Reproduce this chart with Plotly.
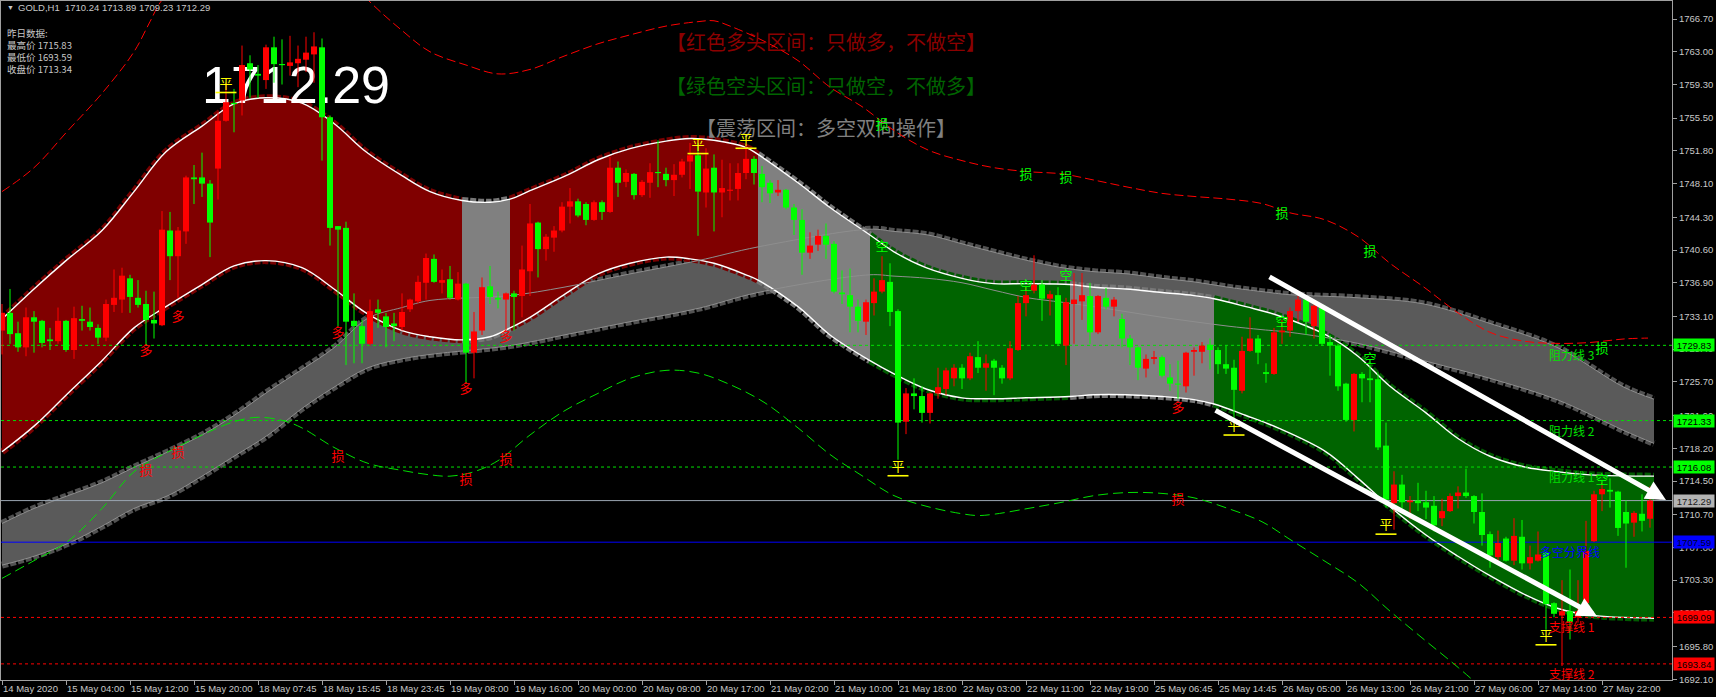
import plotly.graph_objects as go

# ---------------------------------------------------------------- data
symbol = "GOLD,H1"
yesterday = {"最高价": 1715.83, "最低价": 1693.59, "收盘价": 1713.34}

opens = [1731.5, 1733.5, 1731.2, 1729.6, 1733.0, 1732.6, 1730.5, 1730.3, 1732.6, 1729.3,
         1732.8, 1732.5, 1731.8, 1730.7, 1734.4, 1735.0, 1737.4, 1735.2, 1734.5, 1732.7,
         1732.1, 1742.8, 1739.9, 1742.7, 1748.8, 1748.8, 1748.1, 1749.8, 1755.2, 1757.2,
         1757.5, 1761.7, 1760.5, 1759.8, 1763.5, 1761.6, 1761.4, 1761.7, 1762.1, 1762.7,
         1763.5, 1755.6, 1743.3, 1743.1, 1732.6, 1732.0, 1730.0, 1733.9, 1733.1, 1732.3,
         1731.9, 1733.9, 1734.8, 1736.9, 1739.6, 1736.9, 1737.3, 1735.0, 1736.8, 1729.0,
         1731.5, 1736.5, 1735.2, 1735.0, 1735.7, 1735.4, 1738.2, 1743.7, 1740.7, 1742.0,
         1742.8, 1745.5, 1746.1, 1745.8, 1744.0, 1746.0, 1744.9, 1749.9, 1748.3, 1749.2,
         1746.8, 1748.2, 1749.4, 1749.2, 1748.5, 1749.1, 1750.6, 1751.3, 1747.1, 1749.9,
         1747.1, 1747.3, 1747.5, 1749.3, 1750.9, 1749.2, 1748.2, 1747.1, 1747.4, 1745.4,
         1744.0, 1740.3, 1741.2, 1742.2, 1741.3, 1735.8, 1735.5, 1734.2, 1732.5, 1734.6,
         1735.9, 1737.0, 1733.7, 1721.2, 1724.4, 1724.1, 1722.2, 1724.4, 1724.9, 1726.1,
         1727.3, 1726.1, 1728.5, 1727.3, 1728.1, 1727.3, 1726.1, 1729.3, 1734.6, 1736.0,
         1736.7, 1735.1, 1735.5, 1729.8, 1734.5, 1734.8, 1735.4, 1731.3, 1735.2, 1734.2,
         1732.8, 1730.6, 1729.6, 1727.2, 1728.3, 1728.5, 1726.2, 1725.5, 1725.2, 1729.1,
         1729.1, 1729.9, 1729.3, 1727.7, 1727.3, 1724.7, 1729.2, 1730.6, 1726.8, 1726.6,
         1731.3, 1731.5, 1733.7, 1735.0, 1732.0, 1734.4, 1730.2, 1729.8, 1725.5, 1721.4,
         1726.6, 1726.1, 1726.0, 1718.5, 1712.0, 1714.1, 1712.1, 1712.3, 1712.1, 1711.7,
         1710.3, 1711.1, 1712.8, 1713.2, 1712.8, 1711.0, 1708.5, 1705.9, 1708.0, 1705.5,
         1708.2, 1705.2, 1705.5, 1706.4, 1700.7, 1699.3, 1699.8, 1699.1, 1700.7, 1707.7,
         1713.0, 1713.5, 1713.3, 1711.0, 1709.8, 1710.8, 1710.24]
highs = [1734.5, 1736.2, 1732.5, 1734.1, 1733.7, 1732.7, 1731.8, 1734.1, 1732.7, 1734.2,
         1734.3, 1734.1, 1732.2, 1735.0, 1738.4, 1738.6, 1737.8, 1737.2, 1736.0, 1735.9,
         1745.0, 1744.9, 1743.2, 1749.0, 1750.2, 1751.6, 1748.5, 1756.2, 1759.5, 1758.8,
         1763.7, 1762.6, 1761.5, 1763.8, 1764.7, 1764.4, 1764.8, 1763.7, 1764.7, 1765.2,
         1764.5, 1755.8, 1743.3, 1743.8, 1735.7, 1732.7, 1735.0, 1735.0, 1733.5, 1733.5,
         1735.7, 1735.1, 1737.7, 1740.2, 1740.1, 1738.4, 1738.8, 1738.1, 1736.9, 1733.6,
         1737.5, 1738.8, 1735.9, 1735.8, 1736.0, 1741.1, 1745.8, 1743.8, 1742.4, 1743.3,
         1746.0, 1747.6, 1746.4, 1746.0, 1746.2, 1746.2, 1751.1, 1750.6, 1749.7, 1749.3,
         1748.5, 1750.4, 1753.0, 1749.9, 1750.3, 1750.9, 1752.7, 1752.7, 1752.1, 1751.4,
         1750.8, 1750.4, 1750.4, 1752.6, 1751.2, 1750.1, 1748.5, 1748.5, 1747.5, 1745.8,
         1745.2, 1742.6, 1742.9, 1743.6, 1741.6, 1738.3, 1738.5, 1735.0, 1735.0, 1737.4,
         1739.9, 1739.1, 1733.9, 1725.0, 1726.1, 1725.2, 1724.5, 1727.3, 1727.3, 1727.7,
         1727.7, 1729.0, 1730.3, 1728.8, 1728.3, 1727.6, 1730.3, 1735.4, 1736.4, 1740.0,
         1737.2, 1736.0, 1736.4, 1735.2, 1738.0, 1738.0, 1736.9, 1735.5, 1736.3, 1735.3,
         1733.4, 1731.0, 1729.7, 1728.8, 1729.2, 1728.7, 1727.7, 1728.1, 1729.1, 1729.6,
         1730.2, 1730.6, 1729.6, 1729.8, 1728.2, 1730.8, 1733.0, 1731.0, 1727.8, 1731.8,
         1732.7, 1734.1, 1735.4, 1735.1, 1734.6, 1734.5, 1731.0, 1730.0, 1725.6, 1726.7,
         1726.8, 1727.6, 1726.8, 1721.1, 1715.6, 1715.2, 1712.8, 1714.3, 1713.4, 1712.8,
         1712.5, 1713.1, 1713.9, 1715.9, 1712.9, 1713.1, 1708.8, 1708.9, 1708.2, 1710.3,
         1710.1, 1707.2, 1708.8, 1706.5, 1700.8, 1703.3, 1704.5, 1703.3, 1710.0, 1713.4,
         1714.3, 1714.8, 1713.4, 1712.3, 1711.1, 1713.0, 1713.89]
lows = [1728.8, 1730.0, 1729.1, 1728.6, 1729.0, 1729.6, 1729.3, 1730.0, 1729.1, 1728.3,
        1731.5, 1731.5, 1730.0, 1730.3, 1733.6, 1733.5, 1733.5, 1734.1, 1729.8, 1730.6,
        1732.0, 1737.2, 1735.2, 1741.3, 1745.8, 1746.6, 1739.8, 1746.3, 1755.1, 1753.9,
        1755.8, 1757.8, 1757.8, 1758.8, 1759.5, 1759.3, 1760.3, 1759.0, 1760.7, 1759.5,
        1750.7, 1741.1, 1732.0, 1727.6, 1727.8, 1727.8, 1729.8, 1731.8, 1729.6, 1730.3,
        1731.5, 1733.6, 1734.6, 1735.0, 1736.9, 1735.7, 1735.0, 1734.9, 1725.6, 1726.1,
        1731.0, 1734.5, 1734.0, 1731.5, 1731.5, 1733.0, 1735.4, 1737.5, 1739.4, 1740.4,
        1742.6, 1743.6, 1744.3, 1743.4, 1743.9, 1744.0, 1744.8, 1746.6, 1747.7, 1746.3,
        1746.6, 1746.5, 1747.7, 1747.8, 1746.7, 1748.8, 1747.5, 1742.2, 1745.4, 1742.7,
        1744.3, 1746.2, 1746.2, 1748.6, 1748.0, 1746.0, 1745.9, 1746.7, 1745.2, 1742.3,
        1737.8, 1739.6, 1740.5, 1739.6, 1735.7, 1734.5, 1731.3, 1731.3, 1731.0, 1733.2,
        1735.7, 1732.0, 1716.9, 1719.8, 1722.6, 1721.1, 1721.0, 1723.8, 1724.2, 1725.2,
        1724.9, 1725.9, 1726.7, 1724.7, 1724.2, 1725.5, 1725.9, 1729.2, 1733.1, 1735.7,
        1732.6, 1733.2, 1729.8, 1727.6, 1730.0, 1732.7, 1730.0, 1731.1, 1733.9, 1733.1,
        1729.6, 1727.6, 1725.9, 1726.2, 1727.7, 1726.2, 1724.7, 1723.8, 1724.5, 1726.4,
        1727.8, 1727.1, 1726.6, 1726.6, 1721.4, 1724.4, 1729.1, 1727.7, 1725.6, 1726.5,
        1730.0, 1730.8, 1732.5, 1731.0, 1730.6, 1729.8, 1726.4, 1724.7, 1721.2, 1720.1,
        1723.4, 1723.4, 1718.0, 1711.5, 1709.0, 1711.4, 1710.2, 1711.1, 1710.2, 1708.8,
        1709.4, 1711.0, 1711.4, 1712.6, 1709.7, 1707.2, 1704.7, 1705.5, 1705.4, 1705.0,
        1704.5, 1704.5, 1705.4, 1697.7, 1699.1, 1693.6, 1696.6, 1698.5, 1700.3, 1707.6,
        1711.1, 1711.5, 1708.3, 1704.7, 1708.2, 1708.8, 1709.23]
closes = [1733.5, 1731.1, 1729.6, 1733.0, 1732.5, 1730.1, 1730.3, 1732.6, 1729.3, 1732.9,
          1732.6, 1731.9, 1730.7, 1734.5, 1735.2, 1737.7, 1735.3, 1734.4, 1732.7, 1732.3,
          1742.9, 1739.9, 1742.8, 1748.8, 1748.6, 1748.1, 1743.7, 1755.2, 1757.3, 1757.1,
          1761.5, 1761.0, 1760.3, 1763.5, 1761.6, 1761.5, 1761.8, 1762.2, 1762.9, 1763.6,
          1755.6, 1743.1, 1742.9, 1732.5, 1732.0, 1730.0, 1733.7, 1733.5, 1731.9, 1732.0,
          1733.6, 1735.0, 1737.0, 1739.7, 1737.0, 1737.2, 1735.2, 1736.8, 1729.0, 1731.4,
          1736.4, 1735.3, 1735.0, 1735.7, 1735.3, 1738.4, 1743.6, 1740.7, 1742.1, 1742.8,
          1745.5, 1746.1, 1744.5, 1744.0, 1746.0, 1744.9, 1749.9, 1748.2, 1749.3, 1746.8,
          1748.3, 1749.4, 1749.3, 1748.5, 1749.1, 1750.6, 1751.3, 1747.2, 1749.8, 1747.1,
          1747.6, 1747.4, 1749.3, 1750.9, 1749.3, 1747.7, 1747.0, 1747.4, 1745.4, 1744.0,
          1740.3, 1741.1, 1742.2, 1741.2, 1735.9, 1735.6, 1734.2, 1732.6, 1734.7, 1735.9,
          1737.2, 1733.6, 1721.1, 1724.4, 1724.1, 1722.2, 1724.4, 1725.1, 1727.0, 1727.3,
          1726.1, 1728.6, 1727.3, 1727.8, 1727.3, 1726.1, 1729.5, 1734.6, 1735.5, 1736.7,
          1735.1, 1735.6, 1730.0, 1734.7, 1735.0, 1735.5, 1731.3, 1735.4, 1734.2, 1735.0,
          1730.6, 1729.6, 1727.3, 1728.3, 1728.5, 1726.4, 1725.5, 1725.4, 1729.0, 1729.3,
          1729.8, 1729.3, 1727.7, 1727.2, 1724.8, 1729.2, 1730.6, 1729.0, 1726.6, 1731.3,
          1731.5, 1733.7, 1735.0, 1732.5, 1734.3, 1730.0, 1729.8, 1725.2, 1721.4, 1726.6,
          1726.1, 1725.9, 1718.3, 1712.4, 1714.1, 1712.1, 1712.3, 1712.0, 1711.5, 1709.5,
          1711.1, 1712.8, 1713.2, 1712.8, 1711.0, 1708.4, 1706.1, 1707.5, 1705.5, 1708.3,
          1705.2, 1705.9, 1706.2, 1700.6, 1699.5, 1699.8, 1698.6, 1699.8, 1706.6, 1713.0,
          1713.6, 1713.3, 1709.2, 1709.7, 1710.9, 1710.0, 1712.29]

x_tick_bars = [0, 8, 16, 24, 32, 40, 48, 56, 64, 72, 80, 88, 96, 104, 112, 120, 128,
               136, 144, 152, 160, 168, 176, 184, 192, 200]
x_tick_text = ["14 May 2020", "15 May 04:00", "15 May 12:00", "15 May 20:00", "18 May 07:45",
               "18 May 15:45", "18 May 23:45", "19 May 08:00", "19 May 16:00", "20 May 00:00",
               "20 May 09:00", "20 May 17:00", "21 May 02:00", "21 May 10:00", "21 May 18:00",
               "22 May 03:00", "22 May 11:00", "22 May 19:00", "25 May 06:45", "25 May 14:45",
               "26 May 05:00", "26 May 13:00", "26 May 21:00", "27 May 06:00", "27 May 14:00",
               "27 May 22:00"]
y_tick_vals = [1766.70, 1763.00, 1759.30, 1755.50, 1751.80, 1748.10, 1744.30, 1740.60,
               1736.90, 1733.10, 1729.40, 1725.70, 1721.90, 1718.20, 1714.50, 1710.70,
               1707.00, 1703.30, 1699.60, 1695.80, 1692.10]

level_prices = [1729.83, 1721.33, 1716.08, 1712.29, 1707.59, 1699.09, 1693.84]
level_kinds = ["resist", "resist", "resist", "bid", "pivot", "support", "support"]
level_names = ["阻力线 3", "阻力线 2", "阻力线 1", "", "多空分界线", "支撑线 1", "支撑线 2"]

# channel (zone band) knots
band_idx = [0, 4, 8, 12.5, 16.5, 20.5, 25, 29, 33, 37.5,
            41.5, 45.5, 50, 53.5, 57.5, 61, 63.5, 66, 70.5, 74.5,
            78.5, 83, 86, 89, 93, 94.5, 99.5, 103.5, 108.5, 111.5,
            115.5, 120, 124, 128, 133.5, 136.5, 140.5, 145, 149, 151.5,
            155.5, 159.5, 165.5, 169.5, 173.5, 178, 182, 186, 190.5, 194.5,
            198.5, 206.5]
band_up = [1732.8, 1736.2, 1739.4, 1742.8, 1747.2, 1751.7, 1754.6, 1757.1, 1757.8, 1757.2,
           1754.9, 1751.7, 1749.0, 1747.2, 1746.2, 1746.0, 1746.35, 1747.3, 1749.0, 1750.8,
           1752.05, 1752.9, 1753.2, 1753.0, 1752.2, 1751.4, 1748.2, 1745.4, 1742.3, 1740.4,
           1738.6, 1737.4, 1736.8, 1736.8, 1736.7, 1736.4, 1736.2, 1735.8, 1735.45, 1735.1,
           1734.2, 1733.2, 1731.0, 1728.6, 1725.2, 1722.2, 1719.3, 1717.3, 1716.05, 1715.55,
           1715.2, 1715.05]
band_lo = [1717.8, 1720.7, 1724.2, 1728.1, 1731.8, 1734.2, 1736.7, 1738.8, 1739.4, 1738.6,
           1736.2, 1733.5, 1731.5, 1730.8, 1730.45, 1730.8, 1731.8, 1733.0, 1735.7, 1737.9,
           1739.1, 1739.8, 1739.6, 1739.1, 1737.8, 1737.2, 1734.2, 1731.0, 1728.1, 1726.6,
           1724.9, 1723.9, 1723.8, 1723.9, 1724.05, 1724.25, 1724.25, 1724.05, 1723.7, 1723.2,
           1721.9, 1720.5, 1717.8, 1714.8, 1711.6, 1708.4, 1706.0, 1703.8, 1701.6, 1700.1,
           1699.35, 1699.0]
zone_breaks = [0, 57.5, 63.5, 94.5, 108.5, 133.5, 151.5, 206.5]
zone_kinds = ["bull", "range", "bull", "range", "bear", "range", "bear"]

# cloud band knots
cloud_idx = [0, 4, 8.25, 12.5, 16.5, 20.75, 25, 29, 33.25, 37.5,
             41.5, 45.75, 50, 53.5, 63.5, 70.25, 78.5, 87, 94.5, 108.5,
             111.5, 115.75, 120, 124, 128.25, 132.5, 136.5, 140.75, 145, 149,
             153.25, 157.5, 161, 169.5, 177.75, 186, 194.5, 202.75, 206.5]
cloud_top = [1709.7, 1711.4, 1712.85, 1714.3, 1716.05, 1717.8, 1719.7, 1721.9, 1724.6, 1727.1,
             1729.55, 1732.9, 1734.1, 1734.9, 1735.45, 1736.4, 1737.9, 1739.4, 1740.95, 1742.95,
             1742.7, 1742.3, 1741.3, 1740.35, 1739.4, 1738.6, 1738.15, 1737.9, 1737.4, 1737.0,
             1736.4, 1735.9, 1735.55, 1735.2, 1734.5, 1732.3, 1729.55, 1725.1, 1723.75]
cloud_bot = [1705.0, 1706.0, 1707.45, 1709.4, 1711.4, 1712.85, 1715.05, 1717.3, 1719.7, 1722.7,
             1725.1, 1727.3, 1728.3, 1728.8, 1729.8, 1731.0, 1732.5, 1734.0, 1735.8, 1737.8,
             1737.65, 1737.4, 1736.9, 1736.05, 1735.2, 1734.7, 1734.2, 1733.6, 1733.0, 1732.5,
             1732.0, 1731.6, 1731.3, 1730.05, 1728.1, 1726.1, 1723.65, 1720.2, 1718.75]

# outer envelope (red dashed upper, green dashed lower)
env_up_idx = [0, 4, 8.25, 12.5, 16.5, 18.5, 20, 26, 33, 40,
              45.75, 50, 53.5, 58, 62, 66, 70.25, 74.5, 78.5, 83,
              87, 89, 91, 95.25, 99.5, 103.5, 107.5, 111.5, 115.75, 120,
              124, 128.25, 132.5, 136.5, 140.75, 145, 149, 153.25, 157.5, 161,
              165.25, 169.5, 173.5, 177.75, 182, 186, 190.25, 194.5, 198.5, 202.75,
              205.75]
env_up = [1747.2, 1749.9, 1754.1, 1758.3, 1763.0, 1766.4, 1768.85, 1774.5, 1777.0, 1774.5,
          1768.85, 1765.4, 1763.0, 1761.5, 1760.5, 1761.0, 1762.5, 1763.9, 1764.9, 1765.9,
          1766.4, 1766.5, 1765.9, 1764.2, 1762.0, 1759.0, 1756.8, 1754.1, 1751.9, 1750.7,
          1749.9, 1749.45, 1749.2, 1748.5, 1747.7, 1747.0, 1746.65, 1746.35, 1745.85, 1744.8,
          1744.05, 1742.1, 1739.1, 1736.4, 1733.5, 1731.3, 1730.3, 1730.05, 1730.15, 1730.55,
          1730.65]
env_lo_idx = [0, 4, 8.25, 12.5, 16.5, 20.75, 25, 29, 32, 35.25,
              37.5, 41.5, 45.75, 50, 53.5, 56, 59, 62, 66, 70.25,
              74.5, 78.5, 83, 87, 91, 95.25, 99.5, 103.5, 107.5, 111.5,
              115.75, 120, 122, 124, 128.25, 132.5, 136.5, 140.75, 145, 149,
              153.25, 157.5, 161, 165.25, 169.5, 173.5, 177.75, 182, 186]
env_lo = [1703.5, 1705.5, 1707.7, 1711.4, 1715.55, 1717.8, 1719.7, 1721.2, 1721.7, 1721.3,
          1720.5, 1718.3, 1716.5, 1715.7, 1715.2, 1715.05, 1715.55, 1716.8, 1719.7, 1722.4,
          1724.4, 1726.1, 1727.0, 1726.7, 1725.4, 1723.4, 1720.5, 1717.5, 1715.1, 1712.85,
          1711.6, 1710.8, 1710.6, 1710.75, 1711.4, 1712.1, 1712.85, 1713.2, 1713.1, 1712.6,
          1711.4, 1709.9, 1707.9, 1705.5, 1703.0, 1699.8, 1696.6, 1693.45, 1690.3]

# signal marks
sig_idx = [18, 22, 42, 58, 63, 147,
           18, 22, 42, 58, 63, 147,
           110, 128, 133, 160, 171, 200,
           110, 128, 133, 160, 171, 200,
           28, 87, 93, 112, 154, 173, 193]
sig_price = [1729.1, 1733.0, 1731.1, 1724.8, 1730.7, 1722.7,
             1715.6, 1717.6, 1717.1, 1714.5, 1716.8, 1712.3,
             1740.85, 1736.4, 1737.6, 1732.4, 1728.2, 1714.5,
             1754.6, 1749.0, 1748.7, 1744.6, 1740.3, 1729.3,
             1759.3, 1752.4, 1753.0, 1716.0, 1720.6, 1709.4, 1696.9]
sig_text = ["多"] * 6 + ["损"] * 6 + ["空"] * 6 + ["损"] * 6 + ["平"] * 7
sig_side = ["long"] * 12 + ["short"] * 12 + ["flat"] * 7

# trend arrows (tail -> head)
arrow_from_idx = [158.25, 151.5]
arrow_from_price = [1737.66, 1722.57]
arrow_to_idx = [208.0, 199.4]
arrow_to_price = [1712.36, 1699.2]

headers = ["【红色多头区间：只做多，不做空】", "【绿色空头区间：只做空，不做多】", "【震荡区间：多空双向操作】"]

# ---------------------------------------------------------------- geometry
W, H = 1716, 697
ML, MR, MT, MB = 1, 44, 1, 17
PW, PH = W - ML - MR, H - MT - MB
BAR_PX = 8.0
PX_PER_UNIT = 8.851


def bar_at(xpx):
    return (xpx - 2.0) / BAR_PX


def price_at(ypx):
    return 1766.70 - (ypx - 19.0) / PX_PER_UNIT


X_RANGE = [bar_at(1), bar_at(W - MR)]
Y_RANGE = [price_at(H - MB), price_at(MT)]

n = len(closes)
assert len(opens) == len(highs) == len(lows) == n

ZONE_FILL = {"bull": "#800000", "range": "#808080", "bear": "#006400"}
ZONE_BUMP = {"bull": "#780000", "range": "#767676", "bear": "#005a00"}
CLOUD_FILL, CLOUD_BUMP, CLOUD_EDGE = "#5a5a5a", "#525252", "#8e8e8e"
UP_C, DN_C = "#ff0000", "#00ff00"
AX_C, TXT_C = "#a0a0a0", "#c8c8c8"
CJK = "Noto Sans CJK SC"
LAT = "Liberation Sans"

fig = go.Figure()


def add_line(x, y, color, width, dash=None, shape="spline", fill=None, fillcolor=None):
    fig.add_trace(go.Scatter(x=x, y=y, mode="lines",
                             line=dict(color=color, width=width, dash=dash, shape=shape),
                             fill=fill, fillcolor=fillcolor,
                             hoverinfo="skip", showlegend=False))


BUMP_DASH = "6px,2px"

# cloud
add_line(cloud_idx, cloud_top, CLOUD_BUMP, 7, BUMP_DASH)
add_line(cloud_idx, cloud_bot, CLOUD_BUMP, 7, BUMP_DASH)
add_line(cloud_idx, cloud_top, CLOUD_FILL, 0)
add_line(cloud_idx, cloud_bot, CLOUD_FILL, 0, fill="tonexty", fillcolor=CLOUD_FILL)

# zones
segments = []
for k, kind in enumerate(zone_kinds):
    a, b = zone_breaks[k], zone_breaks[k + 1]
    sel = [j for j, v in enumerate(band_idx) if a <= v <= b]
    segments.append((kind, [band_idx[j] for j in sel], [band_up[j] for j in sel],
                     [band_lo[j] for j in sel]))
for kind, xs, ups, los in segments:
    add_line(xs, ups, ZONE_BUMP[kind], 7, BUMP_DASH)
    add_line(xs, los, ZONE_BUMP[kind], 7, BUMP_DASH)
for kind, xs, ups, los in segments:
    add_line(xs, ups, ZONE_FILL[kind], 0)
    add_line(xs, los, ZONE_FILL[kind], 0, fill="tonexty", fillcolor=ZONE_FILL[kind])

add_line(band_idx, band_up, "#ffffff", 1.4)
add_line(band_idx, band_lo, "#ffffff", 1.4)
add_line(cloud_idx, cloud_top, CLOUD_EDGE, 1)
add_line(cloud_idx, cloud_bot, CLOUD_EDGE, 1)

# big texts (under candles)
fig.add_trace(go.Scatter(x=[bar_at(296)], y=[price_at(90)], mode="text",
                         text=[f"{closes[-1]:.2f}"], textposition="middle center",
                         textfont=dict(family=LAT, size=52, color="#ffffff"),
                         hoverinfo="skip", showlegend=False))
hdr_colors = ["#8b0000", "#006400", "#808080"]
hdr_y = [44.5, 88.5, 130.5]
for t, c, yy in zip(headers, hdr_colors, hdr_y):
    fig.add_trace(go.Scatter(x=[bar_at(826)], y=[price_at(yy)], mode="text", text=[t],
                             textposition="middle center",
                             textfont=dict(family=CJK, size=20, color=c),
                             hoverinfo="skip", showlegend=False))

# horizontal levels
LEVEL_STYLE = {"resist": ("#00e000", "3px,3px"), "support": ("#ff0000", "3px,3px"),
               "bid": ("#9aa4b0", None), "pivot": ("#0000ff", None)}
for p, kind in zip(level_prices, level_kinds):
    c, d = LEVEL_STYLE[kind]
    add_line(X_RANGE, [p, p], c, 1, d, shape="linear")

# envelopes
add_line(env_up_idx, env_up, "#ff0000", 1, "9px,4px")
add_line(env_lo_idx, env_lo, "#00e000", 1, "10px,5px")

# candles
for up in (True, False):
    wx, wy, bx, by = [], [], [], []
    for i in range(n):
        o, h, l, c = opens[i], highs[i], lows[i], closes[i]
        if (c >= o) != up:
            continue
        wx += [i, i, None]
        wy += [l, h, None]
        lo_b, hi_b = min(o, c), max(o, c)
        if hi_b - lo_b < 0.13:
            m = (hi_b + lo_b) / 2
            lo_b, hi_b = m - 0.065, m + 0.065
        bx += [i, i, None]
        by += [lo_b, hi_b, None]
    col = UP_C if up else DN_C
    add_line(wx, wy, col, 1, shape="linear")
    add_line(bx, by, col, 6, shape="linear")

# signals
SIG_COLOR = {("多", "long"): "#ff0000", ("损", "long"): "#ff0000",
             ("空", "short"): "#00ff00", ("损", "short"): "#00ff00",
             ("平", "flat"): "#ffff00"}
groups = {}
for x, y, t, s in zip(sig_idx, sig_price, sig_text, sig_side):
    groups.setdefault((t, s), []).append((x, y))
for (t, s), pts in groups.items():
    col = SIG_COLOR[(t, s)]
    fig.add_trace(go.Scatter(x=[p[0] for p in pts], y=[p[1] for p in pts], mode="text",
                             text=[t] * len(pts), textposition="middle center",
                             textfont=dict(family=CJK, size=13, color=col),
                             hoverinfo="skip", showlegend=False))
    if t == "平":
        fig.add_trace(go.Scatter(x=[p[0] for p in pts], y=[p[1] - 8 / PX_PER_UNIT for p in pts],
                                 mode="markers",
                                 marker=dict(symbol="line-ew", size=15,
                                             line=dict(color=col, width=1.6)),
                                 hoverinfo="skip", showlegend=False))

# ---------------------------------------------------------------- annotations
def paper(xpx, ypx):
    return (xpx - ML) / PW, 1 - (ypx - MT) / PH


def text_px(xpx, ypx, text, size, color, family=LAT, xanchor="left"):
    px_, py_ = paper(xpx, ypx)
    fig.add_annotation(x=px_, y=py_, xref="paper", yref="paper", text=text, showarrow=False,
                       xanchor=xanchor, yanchor="middle",
                       font=dict(family=family, size=size, color=color))


text_px(5, 8, "▼", 7, TXT_C)
text_px(16, 8, f"{symbol}\u00a0\u00a0{opens[-1]:.2f} {highs[-1]:.2f} {lows[-1]:.2f} {closes[-1]:.2f}",
        9.5, TXT_C)
text_px(5, 33, "昨日数据:", 9.5, TXT_C, CJK)
for k, (name, val) in enumerate(yesterday.items()):
    text_px(5, 45 + 12 * k, f"{name} {val:.2f}", 9.5, TXT_C, CJK)

# level labels
LABEL_COLOR = {"resist": "#00e000", "support": "#ff0000", "pivot": "#0000ff"}
for p, kind, name in zip(level_prices, level_kinds, level_names):
    if not name:
        continue
    xl = bar_at(1538) if kind == "pivot" else bar_at(1547)
    fig.add_annotation(x=xl, y=p, xref="x", yref="y", text=name, showarrow=False,
                       xanchor="left", yanchor="top", yshift=1,
                       font=dict(family=CJK, size=12, color=LABEL_COLOR[kind]))

# price boxes on the axis
BOX_STYLE = {"resist": ("#00ff00", "#000000"), "support": ("#ff0000", "#000000"),
             "bid": ("#b4b4b4", "#1a1a1a"), "pivot": ("#0000ff", "#000030")}
for p, kind in zip(level_prices, level_kinds):
    bg, fg = BOX_STYLE[kind]
    fig.add_annotation(x=1, y=p, xref="paper", yref="y", text=f"{p:.2f}", showarrow=False,
                       xanchor="left", yanchor="middle", xshift=1, width=40, height=12,
                       bgcolor=bg, borderpad=0, align="center",
                       font=dict(family=LAT, size=9.5, color=fg))

# arrows
for xa, ya, xb, yb in zip(arrow_from_idx, arrow_from_price, arrow_to_idx, arrow_to_price):
    fig.add_annotation(x=xb, y=yb, ax=xa, ay=ya, xref="x", yref="y", axref="x", ayref="y",
                       text="", showarrow=True, arrowhead=2, arrowsize=0.8, arrowwidth=5,
                       arrowcolor="#ffffff", standoff=0, startstandoff=0)

fig.update_layout(
    width=W, height=H,
    margin=dict(l=ML, r=MR, t=MT, b=MB, pad=0, autoexpand=False),
    paper_bgcolor="#000000", plot_bgcolor="#000000",
    showlegend=False, hovermode=False,
    xaxis=dict(range=X_RANGE, tickvals=x_tick_bars, ticktext=x_tick_text, tickangle=0,
               ticks="outside", ticklen=4, tickcolor=AX_C, ticklabelposition="outside right",
               tickfont=dict(family=LAT, size=9.5, color=TXT_C), automargin=False,
               showgrid=False, zeroline=False, showline=True, linecolor=AX_C, mirror=True,
               fixedrange=True),
    yaxis=dict(range=Y_RANGE, side="right", tickvals=y_tick_vals,
               ticktext=[f"{v:.2f}" for v in y_tick_vals],
               ticks="outside", ticklen=4, tickcolor=AX_C, automargin=False,
               tickfont=dict(family=LAT, size=9.5, color=TXT_C),
               showgrid=False, zeroline=False, showline=True, linecolor=AX_C, mirror=True,
               fixedrange=True),
)

fig.write_html("out.html", config={"displayModeBar": False},
               post_script="document.body.style.margin='0';document.body.style.padding='0';"
                           "document.body.style.overflow='hidden';"
                           "document.body.style.background='#000';")
